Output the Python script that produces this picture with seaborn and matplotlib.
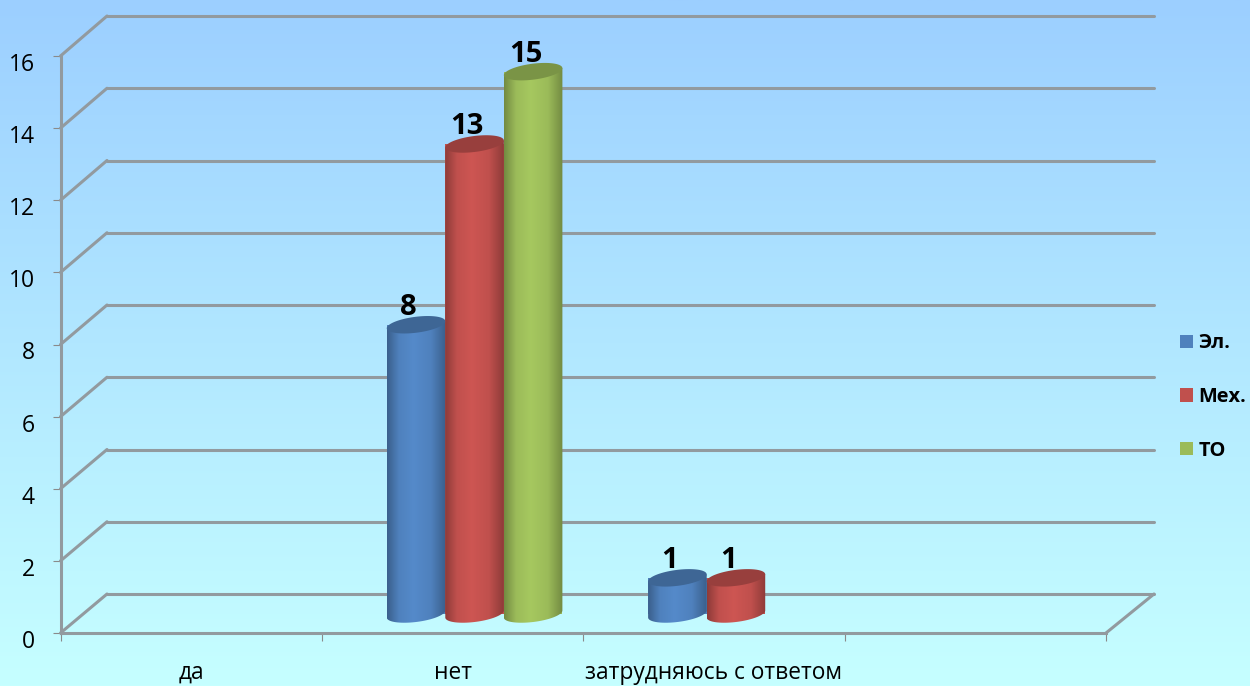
import numpy as np
import pandas as pd
import seaborn as sns
import matplotlib.pyplot as plt
from matplotlib.colors import LinearSegmentedColormap, to_rgb
from matplotlib.patches import Polygon
from matplotlib.transforms import ScaledTranslation

categories = ["да", "нет", "затрудняюсь с ответом", ""]
el = [0, 8, 1, 0]
mech = [0, 13, 1, 0]
to = [0, 15, 0, 0]
series_names = ["Эл.", "Мех.", "ТО"]
colors = ["#4f81bd", "#c0504d", "#9bbb59"]
y_ticks = [0, 2, 4, 6, 8, 10, 12, 14, 16]

W, H = 1250, 686
LINE = "#929a9f"

sns.set_theme(style="white")
plt.rcParams["font.family"] = ["Open Sans", "DejaVu Sans"]

df = pd.DataFrame({
    "cat": categories * 3,
    "name": [n for n in series_names for _ in categories],
    "value": el + mech + to,
})


def box(x0, x1, y_bottom, y_top):
    return [x0 / W, 1 - y_bottom / H, (x1 - x0) / W, (y_bottom - y_top) / H]


fig = plt.figure(figsize=(W / 100, H / 100), dpi=100)

# background
bg = fig.add_axes([0, 0, 1, 1], zorder=0)
top, bottom = np.array(to_rgb("#9ccfff")), np.array(to_rgb("#c6ffff"))
grad = np.linspace(0, 1, 256)[:, None, None] * (bottom - top) + top
bg.imshow(grad, aspect="auto", extent=(0, 1, 0, 1))
bg.axis("off")

# back wall
back = fig.add_axes(box(107, 1154, 594, 16), zorder=1)
back.patch.set_visible(False)
back.set_xlim(0, 4)
back.set_ylim(0, 16)
back.set_xticks([])
back.set_yticks(y_ticks)
back.tick_params(left=False, labelleft=False)
back.grid(axis="y", color=LINE, lw=2.2)
for line in back.get_ygridlines():
    line.set_clip_on(False)
sns.despine(ax=back, left=True, bottom=True)

# front axes with ticks
front = fig.add_axes(box(60.5, 1106, 633, 56), zorder=1)
front.patch.set_visible(False)
front.set_xlim(0, 4)
front.set_ylim(0, 16)
front.set_yticks(y_ticks)
front.set_xticks([0, 1, 2, 3, 4], labels=[])
front.set_xticks([0.5, 1.5, 2.5], labels=categories[:3], minor=True)
front.tick_params(axis="y", left=True, length=5.5, width=0.8, color="#8a8a8a",
                  labelsize=16.5, labelcolor="black", pad=11)
front.tick_params(axis="x", which="major", bottom=True, length=5.5, width=0.8, color="#8a8a8a")
front.tick_params(axis="x", which="minor", bottom=False, labelsize=16.4, labelcolor="black", pad=16)
shift = ScaledTranslation(-0.03, -0.06, fig.dpi_scale_trans)
for label in front.get_yticklabels():
    label.set_transform(label.get_transform() + shift)
sns.despine(ax=front)
for side in ["left", "bottom"]:
    front.spines[side].set_color(LINE)
    front.spines[side].set_linewidth(2.2)

# bars
ax = fig.add_axes(box(82.5, 1128, 614, 35.5), zorder=2)
ax.patch.set_visible(False)
sns.barplot(data=df, x="cat", y="value", hue="name", order=categories,
            hue_order=series_names, palette=colors, saturation=1, width=0.672,
            linewidth=0, ax=ax)
ax.set_xlim(-0.5, 3.5)
ax.set_ylim(0, 16)
ax.set_xticks([])
ax.set_yticks([])
ax.set_xlabel("")
ax.set_ylabel("")
sns.despine(ax=ax, left=True, bottom=True)
sns.move_legend(ax, loc="center left", bbox_to_anchor=(1162 / W, 1 - 397 / H),
                bbox_transform=fig.transFigure, title=None, frameon=False, fontsize=14.4,
                handlelength=0.67, handleheight=0.67, handletextpad=0.25, labelspacing=1.68)
legend = ax.get_legend()
for text in legend.get_texts():
    text.set_fontweight("bold")
    text.set_color("black")

# overlay in pixel coordinates for the 3d look
top_ax = fig.add_axes([0, 0, 1, 1], zorder=3)
top_ax.patch.set_visible(False)
top_ax.axis("off")


def to_px(axes, x, y):
    px, py = axes.transData.transform((x, y))
    return px, H - py


# side edges of the floor and wall
for v in y_ticks:
    p0 = to_px(front, 0, v)
    p1 = to_px(back, 0, v)
    top_ax.plot([p0[0], p1[0]], [p0[1], p1[1]], color=LINE, lw=2.2, solid_capstyle="round")
p0 = to_px(front, 4, 0)
p1 = to_px(back, 4, 0)
top_ax.plot([p0[0], p1[0]], [p0[1], p1[1]], color=LINE, lw=2.2, solid_capstyle="round")

TILT = 3.5
CAP = 8
t_low = np.linspace(0, np.pi, 40)
t_all = np.linspace(0, 2 * np.pi, 80)


def arc(cx, cy, a, t):
    return np.column_stack([cx + a * np.cos(t), cy + CAP * np.sin(t) - TILT * np.cos(t)])


for container, color in zip(ax.containers, colors):
    base = np.array(to_rgb(color))
    dark = base * 0.74
    light = np.clip(base * 1.07, 0, 1)
    cmap = LinearSegmentedColormap.from_list("side", [(0, dark), (0.2, base), (0.45, light),
                                                      (0.75, base), (1, dark)])
    for bar in container:
        h = bar.get_height()
        if h == 0:
            continue
        x0, y_top = to_px(ax, bar.get_x(), h)
        x1, y_bot = to_px(ax, bar.get_x() + bar.get_width(), 0)
        cx = (x0 + x1) / 2
        a = (x1 - x0) / 2
        outline = np.vstack([[[x0, y_top + TILT], [x1, y_top - TILT]], arc(cx, y_bot, a, t_low)])
        clip = Polygon(outline, closed=True, facecolor="none", edgecolor="none")
        top_ax.add_patch(clip)
        im = top_ax.imshow(np.linspace(0, 1, 128)[None, :], cmap=cmap, aspect="auto",
                           extent=(x0, x1, y_bot + CAP + TILT, y_top - TILT))
        im.set_clip_path(clip)
        top_ax.add_patch(Polygon(arc(cx, y_top, a, t_all), closed=True,
                                 facecolor=base * 0.79, edgecolor="none"))
        top_ax.text(cx - 7.5, y_top - 17, f"{h:g}", ha="center", va="center",
                    fontsize=21, fontweight="bold", color="black")

top_ax.set_xlim(0, W)
top_ax.set_ylim(H, 0)

fig.savefig("out.png", dpi=100)
